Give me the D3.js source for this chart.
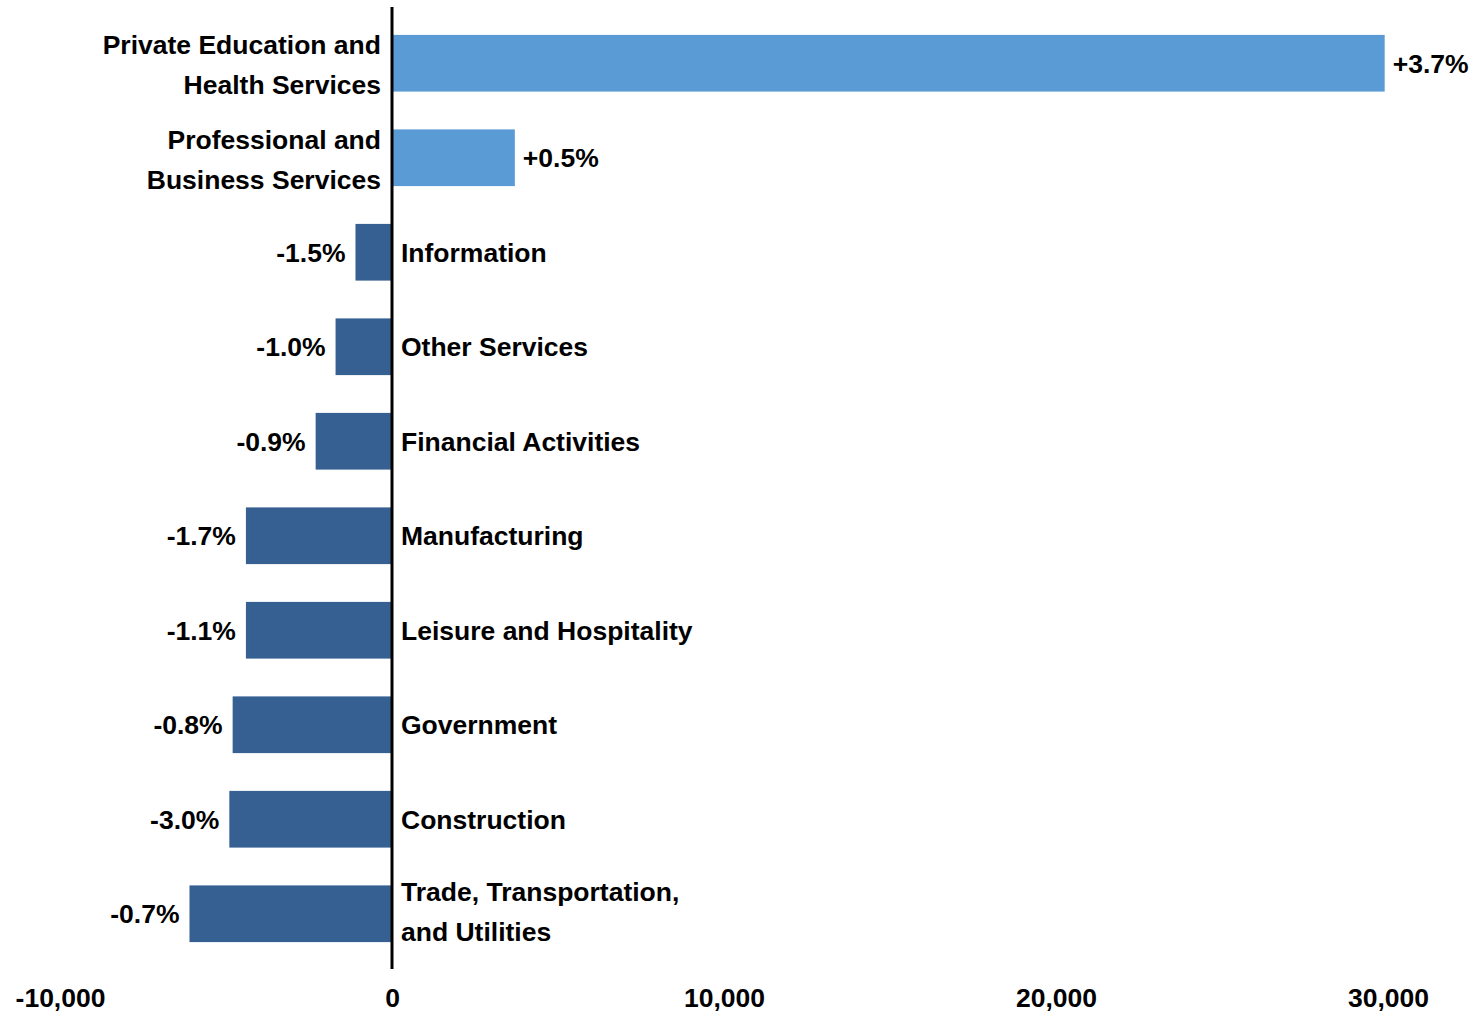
<!DOCTYPE html>
<html>
<head>
<meta charset="utf-8">
<script src="https://cdn.jsdelivr.net/npm/d3@7"></script>
<style>
  body { margin: 0; background: #fff; }
  text { font-family: "Liberation Sans", Arial, sans-serif; font-weight: bold; fill: #000; }
</style>
</head>
<body>
<div id="chart"></div>
<script>
// job change by sector
const categories = [
    ['Private Education and', 'Health Services'],
    ['Professional and', 'Business Services'],
    ['Information'],
    ['Other Services'],
    ['Financial Activities'],
    ['Manufacturing'],
    ['Leisure and Hospitality'],
    ['Government'],
    ['Construction'],
    ['Trade, Transportation,', 'and Utilities']
];
const values = [29900, 3700, -1100, -1700, -2300, -4400, -4400, -4800, -4900, -6100];
const pctLabels = ['+3.7%', '+0.5%', '-1.5%', '-1.0%', '-0.9%', '-1.7%', '-1.1%', '-0.8%', '-3.0%', '-0.7%'];
const tickValues = [-10000, 0, 10000, 20000, 30000];

const width = 1474, height = 1014;
const fontSize = '26.5px';

const svg = d3.select('#chart').append('svg')
    .attr('width', width)
    .attr('height', height);

const x = d3.scaleLinear().domain([-10000, 30000]).range([60, 1388]);
const y = d3.scaleBand()
    .domain(d3.range(values.length))
    .range([16, 961])
    .paddingInner(0.4)
    .paddingOuter(0.2);

const rows = values.map((v, i) => ({ v, i, cat: categories[i], pct: pctLabels[i] }));

// bars
svg.append('g')
    .selectAll('rect')
    .data(rows)
    .join('rect')
    .attr('x', d => x(Math.min(0, d.v)))
    .attr('y', d => y(d.i))
    .attr('width', d => Math.abs(x(d.v) - x(0)))
    .attr('height', y.bandwidth())
    .style('fill', d => d.v >= 0 ? '#5B9BD5' : '#376092');

// zero line
svg.append('line')
    .attr('x1', x(0)).attr('x2', x(0))
    .attr('y1', 7).attr('y2', 969)
    .style('stroke', '#000')
    .style('stroke-width', 3);

// x axis labels, no domain line or ticks
const fmt = d3.format(',');
const axis = svg.append('g')
    .attr('transform', 'translate(0,985)')
    .call(d3.axisBottom(x).tickValues(tickValues).tickSize(0)
        .tickFormat(d => fmt(d).replace('\u2212', '-')));
axis.select('.domain').remove();
axis.selectAll('text')
    .attr('dy', '0.71em')
    .style('font-size', fontSize)
    .style('font-family', '"Liberation Sans", Arial, sans-serif')
    .style('font-weight', 'bold')
    .style('fill', '#000');

// category labels - opposite side of the bar
const catText = svg.append('g')
    .selectAll('text')
    .data(rows)
    .join('text')
    .attr('x', d => d.v >= 0 ? x(0) - 11 : x(0) + 9)
    .attr('y', d => y(d.i) + y.bandwidth() / 2 + (d.cat.length > 1 ? (d.v >= 0 ? 1.5 : -2) : 0))
    .style('text-anchor', d => d.v >= 0 ? 'end' : 'start')
    .style('font-size', fontSize);

catText.selectAll('tspan')
    .data(d => d.cat.map((t, k) => ({ t, k, n: d.cat.length })))
    .join('tspan')
    .attr('x', function() { return d3.select(this.parentNode).attr('x'); })
    .attr('dy', d => d.k === 0 ? (0.35 - (d.n - 1) * 0.755) + 'em' : '1.51em')
    .text(d => d.t);

// percentage labels at the end of each bar
svg.append('g')
    .selectAll('text')
    .data(rows)
    .join('text')
    .attr('x', d => d.v >= 0 ? x(d.v) + 8 : x(d.v) - 10)
    .attr('y', d => y(d.i) + y.bandwidth() / 2)
    .attr('dy', '0.35em')
    .style('text-anchor', d => d.v >= 0 ? 'start' : 'end')
    .style('font-size', fontSize)
    .text(d => d.pct);
</script>
</body>
</html>
